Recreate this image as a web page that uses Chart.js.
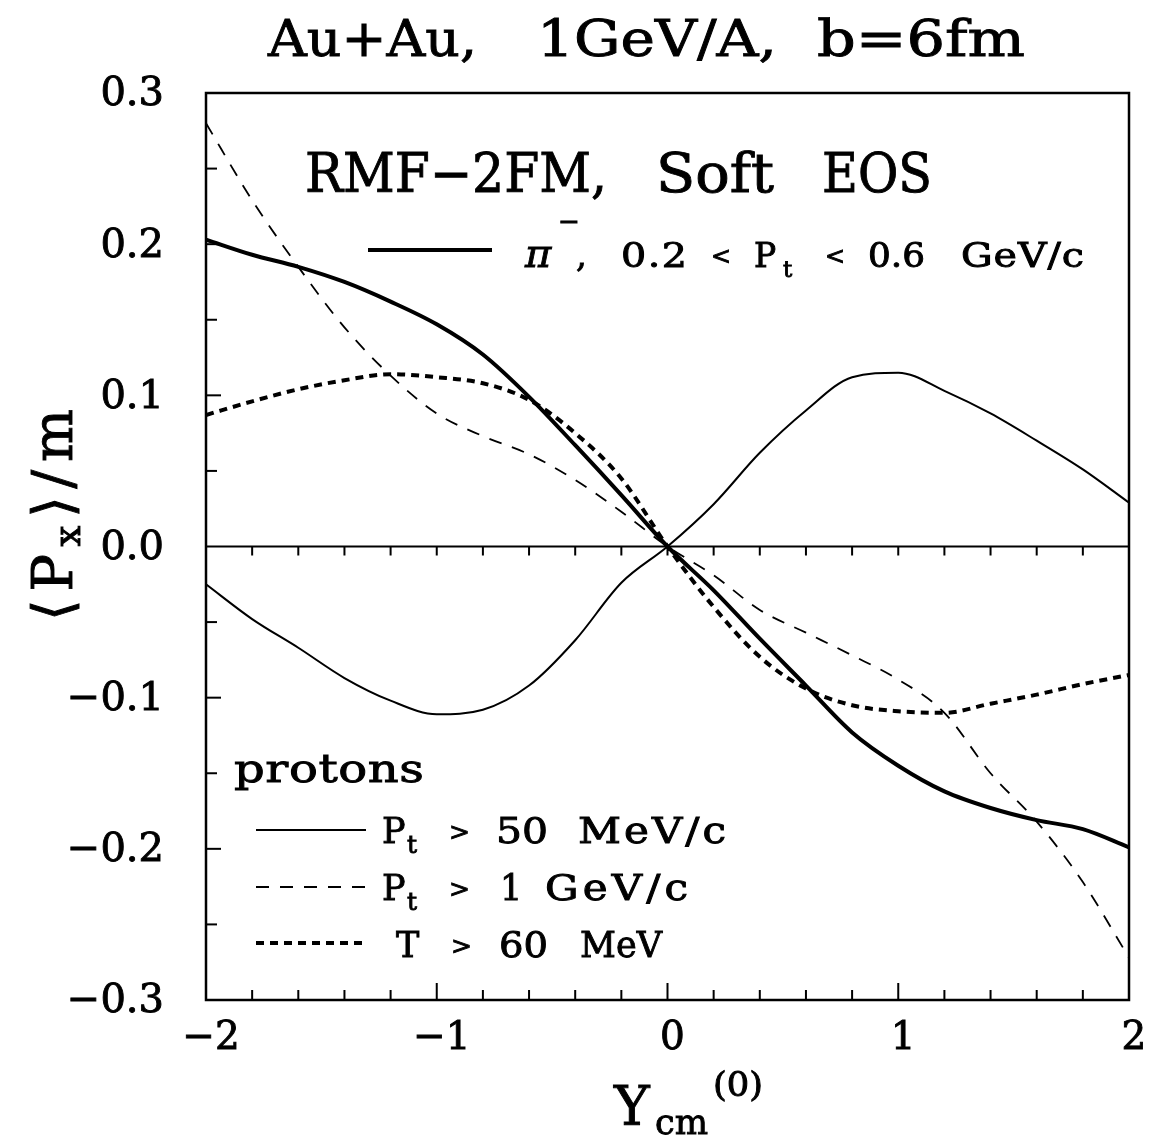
<!DOCTYPE html>
<html>
<head>
<meta charset="utf-8">
<script src="https://cdn.jsdelivr.net/npm/chart.js@4.4.1/dist/chart.umd.min.js"></script>
<style>
  html, body { margin: 0; padding: 0; background: #fff; }
</style>
</head>
<body>
<canvas id="flow" width="1153" height="1142"></canvas>
<script>
// rapidity grid and <Px>/m
const rapidity = [-2, -1.8, -1.6, -1.4, -1.2, -1.0, -0.8, -0.6, -0.4, -0.2, 0,
                  0.2, 0.4, 0.6, 0.8, 1.0, 1.2, 1.4, 1.6, 1.8, 2.0];
const pionPx = [0.203, 0.193, 0.185, 0.175, 0.162, 0.147, 0.127, 0.099, 0.067, 0.034, 0,
                -0.029, -0.061, -0.092, -0.123, -0.145, -0.162, -0.173, -0.181, -0.187, -0.199];
const protonPx = [-0.025, -0.048, -0.067, -0.087, -0.102, -0.111, -0.108, -0.092, -0.062, -0.024, 0,
                  0.028, 0.062, 0.090, 0.112, 0.115, 0.103, 0.088, 0.070, 0.051, 0.029];
const protonHighPtPx = [0.280, 0.229, 0.185, 0.145, 0.113, 0.088, 0.073, 0.061, 0.044, 0.023, 0,
                        -0.019, -0.042, -0.057, -0.072, -0.088, -0.110, -0.150, -0.182, -0.222, -0.272];
const protonHighTPx = [0.087, 0.096, 0.104, 0.110, 0.114, 0.112, 0.108, 0.097, 0.075, 0.045, 0,
                       -0.040, -0.073, -0.094, -0.105, -0.109, -0.110, -0.104, -0.098, -0.091, -0.085];

const xTicks = [-2, -1, 0, 1, 2];
const xTickLabels = ['\u22122', '\u22121', '0', '1', '2'];
const yTicks = [0.3, 0.2, 0.1, 0, -0.1, -0.2, -0.3];
const yTickLabels = ['0.3', '0.2', '0.1', '0.0', '\u22120.1', '\u22120.2', '\u22120.3'];

const FONT = '"DejaVu Serif", "Liberation Serif", serif';
const INK = 0.9; // extra stroke so the type is as heavy as the scan

function toPoints(ys) {
  return rapidity.map((x, i) => ({ x: x, y: ys[i] }));
}

// draw text from x (left) on baseline y; stretch a bit, then letter-space, to reach width w
function put(ctx, text, x, y, size, w, style) {
  ctx.save();
  ctx.font = (style ? style + ' ' : '') + size + 'px ' + FONT;
  ctx.letterSpacing = '0px';
  ctx.textAlign = 'left';
  ctx.textBaseline = 'alphabetic';
  let sx = 1;
  if (w) {
    const m = ctx.measureText(text).width;
    sx = Math.min(w / m, 1.2);
    if (text.length > 1 && m * sx < w) {
      ctx.letterSpacing = ((w / sx - m) / (text.length - 1)) + 'px';
    }
  }
  ctx.translate(x, y);
  ctx.scale(sx, 1);
  ctx.lineWidth = INK;
  ctx.fillText(text, 0, 0);
  ctx.strokeText(text, 0, 0);
  ctx.restore();
}

const paperPlugin = {
  id: 'paper',
  beforeDatasetsDraw(chart) {
    const ctx = chart.ctx;
    const a = chart.chartArea;
    const xs = chart.scales.x;
    const ys = chart.scales.y;
    ctx.save();
    ctx.strokeStyle = '#000';
    ctx.lineWidth = 2.5;
    ctx.strokeRect(a.left, a.top, a.right - a.left, a.bottom - a.top);

    // zero line
    const y0 = ys.getPixelForValue(0);
    ctx.lineWidth = 2;
    ctx.beginPath();
    ctx.moveTo(a.left, y0);
    ctx.lineTo(a.right, y0);
    ctx.stroke();

    // x ticks on bottom axis and on the zero line
    for (let i = -9; i <= 9; i++) {
      const px = xs.getPixelForValue(i / 5);
      const major = i % 5 === 0;
      ctx.beginPath();
      ctx.moveTo(px, a.bottom);
      ctx.lineTo(px, a.bottom - (major ? 17 : 10));
      ctx.moveTo(px, y0);
      ctx.lineTo(px, y0 + 9);
      ctx.stroke();
    }
    // y ticks on left axis
    for (let i = -5; i <= 5; i++) {
      if (i === 0) continue;
      const py = ys.getPixelForValue(i / 20);
      ctx.beginPath();
      ctx.moveTo(a.left, py);
      ctx.lineTo(a.left + (i % 2 === 0 ? 15 : 11), py);
      ctx.stroke();
    }
    ctx.restore();
  },
  afterDraw(chart) {
    const ctx = chart.ctx;
    const xs = chart.scales.x;
    const ys = chart.scales.y;
    ctx.save();
    ctx.fillStyle = '#000';
    ctx.strokeStyle = '#000';
    ctx.lineWidth = INK;

    // tick labels
    ctx.font = '40px ' + FONT;
    ctx.textAlign = 'right';
    ctx.textBaseline = 'middle';
    yTicks.forEach((v, i) => {
      const py = ys.getPixelForValue(v) + 2;
      ctx.fillText(yTickLabels[i], 164, py);
      ctx.strokeText(yTickLabels[i], 164, py);
    });
    ctx.font = '39px ' + FONT;
    ctx.textAlign = 'center';
    ctx.textBaseline = 'alphabetic';
    xTicks.forEach((v, i) => {
      const px = xs.getPixelForValue(v) + 5;
      ctx.fillText(xTickLabels[i], px, 1049);
      ctx.strokeText(xTickLabels[i], px, 1049);
    });

    // titles
    put(ctx, 'Au+Au,', 268, 56, 51, 209);
    put(ctx, '1GeV/A,', 537, 56, 51, 240);
    put(ctx, 'b=6fm', 817, 56, 51, 208);
    put(ctx, 'RMF\u22122FM,', 305, 192, 54, 302);
    put(ctx, 'Soft', 656, 192, 54, 118);
    put(ctx, 'EOS', 822, 192, 54, 110);

    // pion legend
    ctx.lineWidth = 4;
    ctx.beginPath();
    ctx.moveTo(368, 250);
    ctx.lineTo(492, 250);
    ctx.stroke();
    put(ctx, '\u03c0', 525, 267, 40, 0, 'italic');
    put(ctx, '\u2212', 558, 230, 26);
    put(ctx, ',', 576, 267, 34);
    put(ctx, '0.2', 621, 267, 33, 66);
    put(ctx, '<', 711, 264, 24);
    put(ctx, 'P', 754, 267, 33);
    put(ctx, 't', 783, 277, 23);
    put(ctx, '<', 825, 264, 24);
    put(ctx, '0.6', 868, 267, 33, 57);
    put(ctx, 'GeV/c', 961, 267, 33, 123);

    // proton legend
    put(ctx, 'protons', 234, 782, 40, 190);
    const rows = [
      { y: 830, dash: [], lw: 2 },
      { y: 887, dash: [13, 11], lw: 1.8 },
      { y: 943, dash: [8, 6], lw: 4 }
    ];
    rows.forEach(r => {
      ctx.lineWidth = r.lw;
      ctx.setLineDash(r.dash);
      ctx.beginPath();
      ctx.moveTo(256, r.y);
      ctx.lineTo(366, r.y);
      ctx.stroke();
    });
    ctx.setLineDash([]);
    put(ctx, 'P', 382, 843, 35);
    put(ctx, 't', 407, 853, 25);
    put(ctx, '>', 449, 840, 25);
    put(ctx, '50', 496, 843, 35, 52);
    put(ctx, 'MeV/c', 578, 843, 35, 148);
    put(ctx, 'P', 382, 900, 35);
    put(ctx, 't', 407, 910, 25);
    put(ctx, '>', 449, 897, 25);
    put(ctx, '1', 500, 900, 35);
    put(ctx, 'GeV/c', 545, 900, 35, 143);
    put(ctx, 'T', 396, 957, 35);
    put(ctx, '>', 451, 954, 25);
    put(ctx, '60', 499, 957, 35, 49);
    put(ctx, 'MeV', 580, 957, 35, 82);

    // x axis title
    put(ctx, 'Y', 614, 1125, 54);
    put(ctx, 'cm', 655, 1134, 36, 53);
    put(ctx, '(0)', 713, 1096, 33, 50);

    // y axis title, rotated
    ctx.translate(72, 515);
    ctx.rotate(-Math.PI / 2);
    const parts = [['\u27e8', 55, 0], ['P', 56, 0], ['x', 37, 8], ['\u27e9', 55, 0], ['/', 56, 0], ['m', 56, 0]];
    const widths = parts.map(p => { ctx.font = p[1] + 'px ' + FONT; return ctx.measureText(p[0]).width; });
    const total = widths.reduce((s, w) => s + w, 0);
    const gap = (212 - total) / (parts.length - 1);
    let cx = -106;
    ctx.textAlign = 'left';
    ctx.lineWidth = INK;
    parts.forEach((p, i) => {
      ctx.font = p[1] + 'px ' + FONT;
      ctx.fillText(p[0], cx, p[2]);
      ctx.strokeText(p[0], cx, p[2]);
      cx += widths[i] + gap;
    });
    ctx.restore();
  }
};

function series(label, ys, width, dash) {
  return {
    label: label,
    data: toPoints(ys),
    showLine: true,
    borderColor: '#000',
    backgroundColor: '#000',
    borderWidth: width,
    borderDash: dash,
    pointRadius: 0,
    cubicInterpolationMode: 'monotone',
    fill: false
  };
}

new Chart(document.getElementById('flow'), {
  type: 'scatter',
  data: {
    datasets: [
      series('\u03c0\u2212, 0.2 < Pt < 0.6 GeV/c', pionPx, 4, []),
      series('protons, Pt > 50 MeV/c', protonPx, 2, []),
      series('protons, Pt > 1 GeV/c', protonHighPtPx, 1.8, [13, 11]),
      series('protons, T > 60 MeV', protonHighTPx, 4, [8, 6])
    ]
  },
  options: {
    responsive: false,
    devicePixelRatio: 1,
    animation: false,
    layout: { padding: { left: 206, right: 24, top: 93, bottom: 142 } },
    scales: {
      x: { type: 'linear', min: -2, max: 2, display: false },
      y: { type: 'linear', min: -0.3, max: 0.3, display: false }
    },
    plugins: {
      legend: { display: false },
      tooltip: { enabled: false },
      title: { display: false }
    }
  },
  plugins: [paperPlugin]
});
</script>
</body>
</html>
